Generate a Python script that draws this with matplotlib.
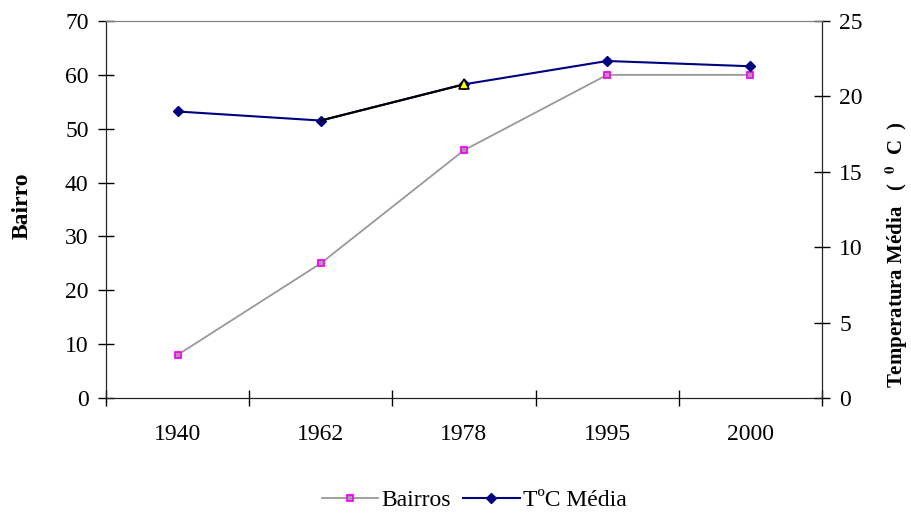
import numpy as np
import matplotlib.pyplot as plt

plt.rcParams['font.family'] = ['Liberation Serif', 'DejaVu Serif']
plt.rcParams['mathtext.fontset'] = 'stix'

anos = ["1940", "1962", "1978", "1995", "2000"]
bairros = [8, 25, 46, 60, 60]
temp_media = [19.0, 18.4, 20.8, 22.35, 22.0]

x = np.arange(len(anos))

fig = plt.figure(figsize=(9.12, 5.14), dpi=100)
ax = fig.add_axes([0.1162, 0.2257, 0.785, 0.7334])
ax2 = ax.twinx()

ax.plot(x, bairros, color="#999999", lw=1.3, marker="s", ms=5,
        mfc="#a0a0a0", mec="#ff00ff", mew=1.3, label="Bairros", zorder=3)
ax2.plot(x, temp_media, color="#000080", lw=1.5, marker="D", ms=5,
         mfc="#000080", mec="#000080", label="TºC Média", zorder=3)
# segment 1962-1978 is drawn black with a yellow triangle point
ax2.plot(x[1:3], temp_media[1:3], color="black", lw=1.5, zorder=4)
ax2.plot(x[2], temp_media[2], marker="^", ms=7, mfc="#ffff00", mec="black",
         mew=1.2, ls="none", zorder=5)

ax.set_xlim(-0.5, len(anos) - 0.5)
ax.set_ylim(0, 70)
ax2.set_ylim(0, 25)
ax.set_yticks(range(0, 71, 10))
ax2.set_yticks(range(0, 26, 5))

ax.set_xticks(np.arange(-0.5, len(anos)))
ax.set_xticklabels([])
ax.set_xticks(x, minor=True)
ax.set_xticklabels(anos, minor=True, fontsize=17)
ax.tick_params(axis="x", which="major", direction="inout", length=11, width=1)
ax.tick_params(axis="x", which="minor", length=0, pad=19)
ax.tick_params(axis="y", direction="inout", length=11, width=1, labelsize=17, pad=7)
ax2.tick_params(axis="y", direction="inout", length=11, width=1, labelsize=17, pad=7)

for a in (ax, ax2):
    a.spines["top"].set_color("#808080")
    a.spines["left"].set_color("#222222")
    a.spines["right"].set_color("#222222")
    a.spines["bottom"].set_color("#222222")

ax.set_ylabel("Bairro", fontsize=17, fontweight="bold")
ax.yaxis.set_label_coords(-0.102, 0.51)
ax2.set_ylabel(r"Temperatura Média   (  $^{\mathbf{0}}$  C  )", fontsize=15,
               fontweight="bold")
ax2.yaxis.set_label_coords(1.086, 0.38)

h1, l1 = ax.get_legend_handles_labels()
h2, l2 = ax2.get_legend_handles_labels()
fig.legend(h1 + h2, l1 + l2, loc="center", bbox_to_anchor=(0.52, 0.027),
           ncol=2, frameon=False, fontsize=17, handlelength=2.4,
           handletextpad=0.15, columnspacing=0.5)

fig.savefig("out.png", dpi=100)
